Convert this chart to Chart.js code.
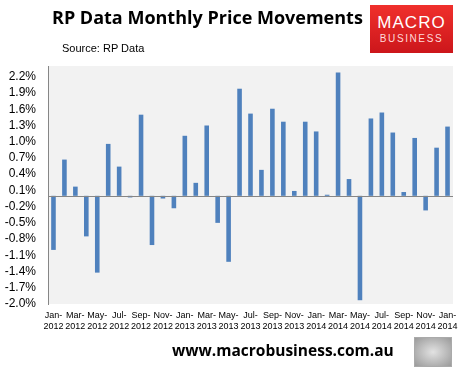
<!DOCTYPE html>
<html>
<head>
<meta charset="utf-8">
<script src="https://cdn.jsdelivr.net/npm/chart.js@4"></script>
<style>
  body { margin: 0; background: #fff; }
  #wrap { position: relative; width: 466px; height: 375px; overflow: hidden; }
  #title { position: absolute; left: 52px; top: 5px; font: bold 18px "Open Sans", sans-serif; color: #000; white-space: nowrap; }
  #source { position: absolute; left: 62px; top: 42px; font: 11px "Liberation Sans", sans-serif; color: #000; }
  #logo { position: absolute; left: 370px; top: 5px; width: 83px; height: 48px; background: linear-gradient(#f0302c, #cc161b); color: #fff; text-align: center; font-family: "Liberation Sans", sans-serif; }
  #logo .m { font-size: 17px; margin-top: 9px; letter-spacing: 1px; line-height: 18px; }
  #logo .b { font-size: 10px; letter-spacing: 1.6px; color: #ffdada; margin-top: 1px; }
  #url { position: absolute; left: 172px; top: 339px; font: bold 15.5px "Open Sans", sans-serif; color: #000; white-space: nowrap; }
  #wolf { position: absolute; left: 414px; top: 337px; width: 36px; height: 28px; border: 1px solid #aaa; background: radial-gradient(#e2e2e2, #9a9a9a); }
</style>
</head>
<body>
<div id="wrap">
  <canvas id="myChart" width="466" height="375"></canvas>
  <div id="title">RP Data Monthly Price Movements</div>
  <div id="source">Source: RP Data</div>
  <div id="logo"><div class="m">MACRO</div><div class="b">BUSINESS</div></div>
  <div id="url">www.macrobusiness.com.au</div>
  <div id="wolf"></div>
</div>
<script>
const months = [
  'Jan-2012', 'Feb-2012', 'Mar-2012', 'Apr-2012', 'May-2012', 'Jun-2012', 'Jul-2012', 'Aug-2012', 'Sep-2012', 'Oct-2012', 'Nov-2012', 'Dec-2012',
  'Jan-2013', 'Feb-2013', 'Mar-2013', 'Apr-2013', 'May-2013', 'Jun-2013', 'Jul-2013', 'Aug-2013', 'Sep-2013', 'Oct-2013', 'Nov-2013', 'Dec-2013',
  'Jan-2014', 'Feb-2014', 'Mar-2014', 'Apr-2014', 'May-2014', 'Jun-2014', 'Jul-2014', 'Aug-2014', 'Sep-2014', 'Oct-2014', 'Nov-2014', 'Dec-2014',
  'Jan-2015'
];

// x labels as printed on the original (every second month, last one reads 2014)
const xTickLabels = [
  'Jan-2012', '', 'Mar-2012', '', 'May-2012', '', 'Jul-2012', '', 'Sep-2012', '', 'Nov-2012', '',
  'Jan-2013', '', 'Mar-2013', '', 'May-2013', '', 'Jul-2013', '', 'Sep-2013', '', 'Nov-2013', '',
  'Jan-2014', '', 'Mar-2014', '', 'May-2014', '', 'Jul-2014', '', 'Sep-2014', '', 'Nov-2014', '',
  'Jan-2014'
];

const priceMoves = [
  -1.00, 0.67, 0.17, -0.75, -1.42, 0.96, 0.54, -0.03, 1.50, -0.91, -0.05, -0.23,
  1.11, 0.24, 1.30, -0.50, -1.22, 1.98, 1.52, 0.48, 1.61, 1.37, 0.09, 1.37,
  1.19, 0.02, 2.28, 0.31, -1.93, 1.43, 1.54, 1.17, 0.07, 1.07, -0.27, 0.89,
  1.28
];

const yTicks = [-2.0, -1.7, -1.4, -1.1, -0.8, -0.5, -0.2, 0.1, 0.4, 0.7, 1.0, 1.3, 1.6, 1.9, 2.2];

const plotBg = {
  id: 'plotBg',
  beforeDraw(chart) {
    const { ctx, chartArea: a } = chart;
    ctx.save();
    ctx.fillStyle = '#f2f2f2';
    ctx.fillRect(a.left, a.top, a.right - a.left, a.bottom - a.top);
    ctx.restore();
  },
  afterDatasetsDraw(chart) {
    // horizontal axis sits on zero
    const { ctx, chartArea: a } = chart;
    const y0 = Math.round(chart.scales.y.getPixelForValue(0)) + 0.5;
    ctx.save();
    ctx.strokeStyle = '#868686';
    ctx.lineWidth = 1;
    ctx.beginPath();
    ctx.moveTo(a.left, y0);
    ctx.lineTo(a.right, y0);
    ctx.stroke();
    ctx.restore();
  }
};

const ctx = document.getElementById('myChart').getContext('2d');
new Chart(ctx, {
  type: 'bar',
  data: {
    labels: months,
    datasets: [{
      data: priceMoves,
      backgroundColor: '#4f81bd',
      barPercentage: 0.42,
      categoryPercentage: 1.0
    }]
  },
  options: {
    responsive: false,
    animation: false,
    layout: { padding: { top: 66, right: 13, left: 0, bottom: 31 } },
    plugins: {
      legend: { display: false },
      tooltip: { enabled: false }
    },
    scales: {
      x: {
        grid: { display: false, drawTicks: false },
        border: { display: false },
        afterFit(scale) { scale.height = 40; },
        ticks: {
          autoSkip: false,
          maxRotation: 0,
          padding: 6,
          color: '#000',
          font: { family: 'Liberation Sans', size: 9 },
          callback(value, index) {
            const t = xTickLabels[index];
            return t ? [t.split('-')[0] + '-', t.split('-')[1]] : '';
          }
        }
      },
      y: {
        min: -2.0,
        max: 2.4,
        grid: { display: false, drawTicks: false },
        border: { display: true, color: '#868686' },
        afterFit(scale) { scale.width = 48; },
        afterBuildTicks(scale) {
          scale.ticks = yTicks.map(v => ({ value: v }));
        },
        ticks: {
          autoSkip: false,
          padding: 12,
          color: '#000',
          font: { family: 'Liberation Sans', size: 12 },
          callback(value) { return value.toFixed(1) + '%'; }
        }
      }
    }
  },
  plugins: [plotBg]
});
</script>
</body>
</html>
